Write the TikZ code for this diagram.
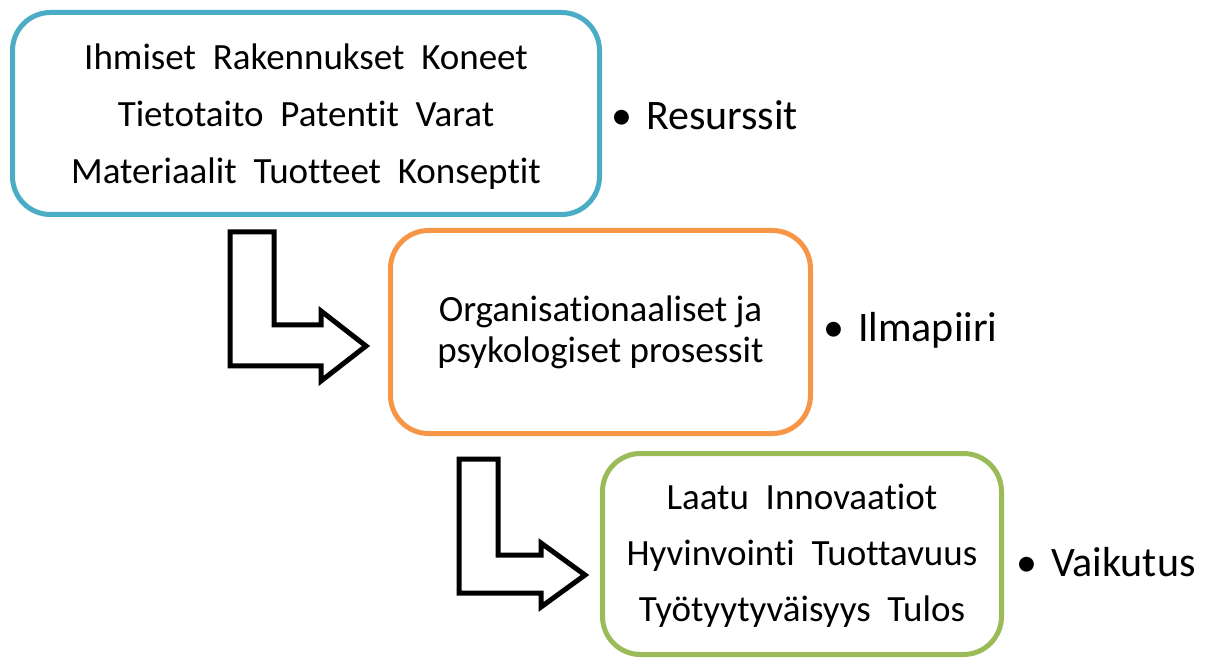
\documentclass[tikz,border=0pt]{standalone}
\usepackage{fontspec}
\setmainfont{Carlito}[Ligatures=NoCommon]
\definecolor{boxblue}{HTML}{4BACC6}
\definecolor{boxorange}{HTML}{F79646}
\definecolor{boxgreen}{HTML}{9BBB59}
\tikzset{
  stagebox/.style={draw, line width=5pt, rounded corners=38pt, fill=white, inner sep=0pt},
  stagetext/.style={align=center, inner sep=0pt, text=black},
  bullabel/.style={anchor=west, inner sep=0pt, font=\fontsize{42}{46}\selectfont},
  bentarrow/.style={draw=black, fill=white, line width=5pt, line join=miter},
}
\begin{document}
\begin{tikzpicture}[x=1pt, y=-1pt]
\useasboundingbox (0,0) rectangle (1216,660);

% three stages
\node[stagebox, draw=boxblue, minimum width=587pt, minimum height=202pt] (res) at (306,113.5) {};
\node[stagebox, draw=boxorange, minimum width=420pt, minimum height=203pt] (ilm) at (600.5,332) {};
\node[stagebox, draw=boxgreen, minimum width=399pt, minimum height=201pt] (vai) at (802,554) {};

\node[stagetext, font=\fontsize{37}{57}\selectfont] (restext) at ([yshift=-3pt]res.center)
  {Ihmiset~ Rakennukset~ Koneet\\Tietotaito~ Patentit~ Varat\\Materiaalit~ Tuotteet~ Konseptit};
\node[stagetext, font=\fontsize{37}{41}\selectfont] (ilmtext) at (ilm.center)
  {Organisationaaliset ja\\psykologiset prosessit};
\node[stagetext, font=\fontsize{37}{56}\selectfont] (vaitext) at ([yshift=-2pt]vai.center)
  {Laatu~ Innovaatiot\\Hyvinvointi~ Tuottavuus\\Työtyytyväisyys~ Tulos};

% side labels
\node[bullabel] (reslab) at (611,115) {\textbullet\hspace{14pt}Resurssit};
\node[bullabel] (ilmlab) at (823,330) {\textbullet\hspace{14pt}Ilmapiiri};
\node[bullabel] (vailab) at (1016,562) {\textbullet\hspace{14pt}Vaikutus};

% bent arrows between the stages
\draw[bentarrow] (230,232) -- (274,232) -- (274,325) -- (321,325) -- (321,311)
  -- (366,346) -- (321,381) -- (321,366) -- (230,366) -- cycle;
\draw[bentarrow] (459,459) -- (498,459) -- (498,555) -- (541,555) -- (541,543)
  -- (585,575) -- (541,607) -- (541,593) -- (459,593) -- cycle;
\end{tikzpicture}
\end{document}
